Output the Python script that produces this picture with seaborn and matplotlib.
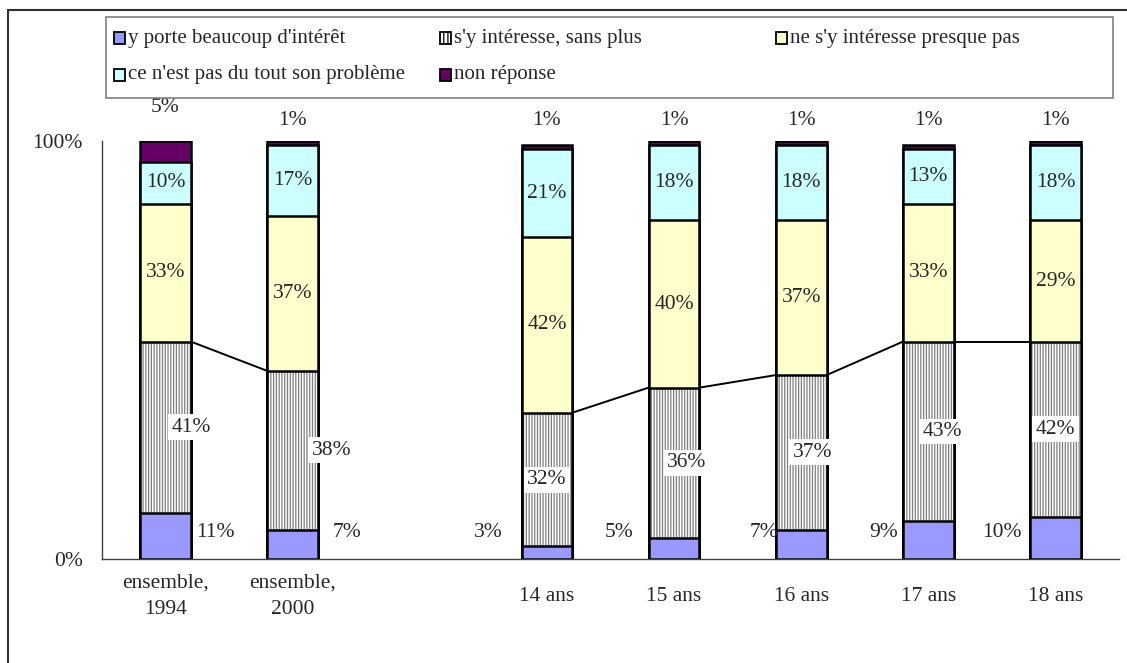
import numpy as np
import pandas as pd
import matplotlib
matplotlib.use("Agg")
import matplotlib.pyplot as plt
import seaborn as sns
from matplotlib.patches import Rectangle

# données (en %)
groupes = ["ensemble,\n1994", "ensemble,\n2000", "14 ans", "15 ans", "16 ans", "17 ans", "18 ans"]
ordre = ["ensemble,\n1994", "ensemble,\n2000", " ", "14 ans", "15 ans", "16 ans", "17 ans", "18 ans"]
beaucoup = [11, 7, 3, 5, 7, 9, 10]
sans_plus = [41, 38, 32, 36, 37, 43, 42]
presque_pas = [33, 37, 42, 40, 37, 33, 29]
pas_du_tout = [10, 17, 21, 18, 18, 13, 18]
non_reponse = [5, 1, 1, 1, 1, 1, 1]

series = ["y porte beaucoup d'intérêt", "s'y intéresse, sans plus", "ne s'y intéresse presque pas",
          "ce n'est pas du tout son problème", "non réponse"]
couleurs = ["#9999FF", "white", "#FFFFCC", "#CCFFFF", "#660066"]

df = pd.DataFrame({"groupe": groupes, "s1": beaucoup, "s2": sans_plus, "s3": presque_pas,
                   "s4": pas_du_tout, "s5": non_reponse})
cols = ["s1", "s2", "s3", "s4", "s5"]
cum = df[cols].cumsum(axis=1)

sns.set_style("white")
plt.rcParams["font.family"] = ["Liberation Serif", "DejaVu Serif"]
plt.rcParams["hatch.linewidth"] = 0.9
FS = 15.5

W, H = 1127, 663
fig = plt.figure(figsize=(W / 100, H / 100), dpi=100, facecolor="white")
ax = fig.add_axes([102 / W, 1 - 559 / H, (1119 - 102) / W, (559 - 141) / H])

larg = 0.4
# barres empilées : on dessine les cumuls du haut vers le bas
for k in range(4, -1, -1):
    d = pd.DataFrame({"groupe": groupes, "val": cum[cols[k]]})
    if k == 1:
        sns.barplot(data=d, x="groupe", y="val", order=ordre, color="white", saturation=1,
                    width=larg, edgecolor="#7f7f7f", linewidth=0, hatch="||||||", ax=ax)
        sns.barplot(data=d, x="groupe", y="val", order=ordre, fill=False, saturation=1,
                    width=larg, edgecolor="black", linewidth=1.8, ax=ax)
    else:
        sns.barplot(data=d, x="groupe", y="val", order=ordre, color=couleurs[k], saturation=1,
                    width=larg, edgecolor="black", linewidth=1.8, ax=ax)

pos = [ordre.index(g) for g in groupes]

# lignes de séries entre barres voisines
for i in range(len(pos) - 1):
    if pos[i + 1] - pos[i] == 1:
        ax.plot([pos[i] + larg / 2, pos[i + 1] - larg / 2],
                [cum["s2"][i], cum["s2"][i + 1]], color="black", lw=1.4)

# étiquettes
dx_s1 = [0.39, 0.43, -0.46, -0.43, -0.29, -0.35, -0.42]
dx_s2 = [0.2, 0.31, 0, 0.1, 0.09, 0.11, 0]
for i, p in enumerate(pos):
    ax.text(p + dx_s1[i], 6.3, f"{beaucoup[i]}%", ha="center", va="center", fontsize=FS)
    ax.text(p + dx_s2[i], beaucoup[i] + sans_plus[i] / 2, f"{sans_plus[i]}%", ha="center",
            va="center", fontsize=FS,
            bbox=dict(facecolor="white", edgecolor="none", pad=2.5))
    ax.text(p, cum["s2"][i] + presque_pas[i] / 2, f"{presque_pas[i]}%", ha="center",
            va="center", fontsize=FS)
    ax.text(p, cum["s3"][i] + pas_du_tout[i] / 2, f"{pas_du_tout[i]}%", ha="center",
            va="center", fontsize=FS)
    ax.text(p, 100 + 4 + 0.8 * non_reponse[i], f"{non_reponse[i]}%", ha="center",
            va="center", fontsize=FS)

# axes
ax.set_xlim(-0.5, len(ordre) - 0.5)
ax.set_ylim(0, 100)
ax.set_xlabel("")
ax.set_ylabel("")
ax.set_yticks([0, 100])
ax.set_yticklabels(["0%", "100%"], fontsize=FS)
ax.set_xticks(np.arange(-0.5, len(ordre), 1))
ax.set_xticklabels([])
ax.set_xticks(range(len(ordre)), minor=True)
ax.set_xticklabels(ordre, minor=True, fontsize=FS, linespacing=1.55)
for t in ax.get_xticklabels(minor=True):
    t.set_va("center")
ax.tick_params(axis="x", which="major", direction="out", length=6, width=1, color="#404040")
ax.tick_params(axis="x", which="minor", length=0, pad=27)
ax.tick_params(axis="y", direction="out", length=6, width=1, color="#404040", pad=8)
for s in ["top", "right"]:
    ax.spines[s].set_visible(False)
for s in ["left", "bottom"]:
    ax.spines[s].set_color("#404040")
    ax.spines[s].set_linewidth(1)

# légende dessinée à la main (disposition Excel)
fig.patches.append(Rectangle((106 / W, 1 - 98 / H), (1113 - 106) / W, (98 - 17) / H,
                             transform=fig.transFigure, fill=False, edgecolor="#808080", lw=1.2))
leg_xy = [(114, 38), (440, 38), (776, 38), (114, 75), (440, 75)]
for k, (mx, my) in enumerate(leg_xy):
    fig.patches.append(Rectangle((mx / W, 1 - (my + 6) / H), 11 / W, 12 / H,
                                 transform=fig.transFigure, facecolor=couleurs[k],
                                 edgecolor="black", lw=1.3,
                                 hatch="||||" if k == 1 else None))
    fig.text((mx + 14) / W, 1 - my / H, series[k], fontsize=15, va="center", ha="left")

# cadre extérieur
fig.patches.append(Rectangle((8 / W, -0.1), 1.2, 1.1 - 10 / H, transform=fig.transFigure,
                             fill=False, edgecolor="#303030", lw=1.5))

fig.savefig("out.png", dpi=100, facecolor="white")
